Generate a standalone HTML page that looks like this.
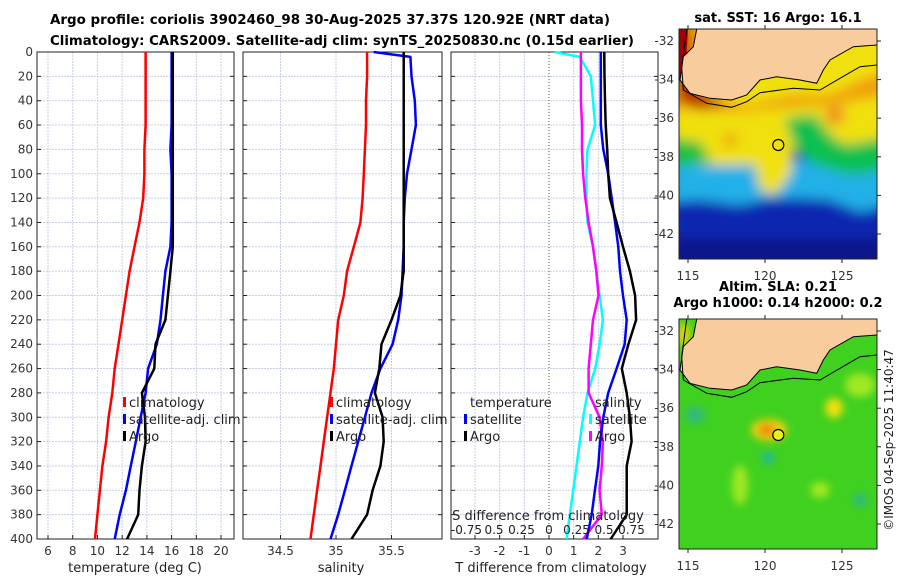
<!DOCTYPE html>
<html><head><meta charset="utf-8"><style>
body{margin:0;background:#fff;}
svg{display:block;font-family:"DejaVu Sans","Liberation Sans",sans-serif;}
</style></head><body>
<svg id="c" width="900" height="580" viewBox="0 0 900 580" xmlns="http://www.w3.org/2000/svg">
<defs>
<filter id="bl" x="-20%" y="-20%" width="140%" height="140%"><feGaussianBlur stdDeviation="6"/></filter>
<filter id="bl2" x="-50%" y="-50%" width="200%" height="200%"><feGaussianBlur stdDeviation="4"/></filter>
<clipPath id="m1"><rect x="679" y="29" width="198" height="230"/></clipPath>
<clipPath id="m2"><rect x="679" y="319" width="198" height="230"/></clipPath>
</defs>
<text x="330" y="24" text-anchor="middle" font-size="13" font-weight="bold" textLength="560" lengthAdjust="spacingAndGlyphs">Argo profile: coriolis 3902460_98 30-Aug-2025 37.37S 120.92E (NRT data)</text>
<text x="342" y="45" text-anchor="middle" font-size="13" font-weight="bold" textLength="584" lengthAdjust="spacingAndGlyphs">Climatology: CARS2009. Satellite-adj clim: synTS_20250830.nc (0.15d earlier)</text>
<g id="plots"></g>
<g id="maps"></g>
</svg>
<script>
const depths=[0,4,20,40,60,80,100,120,140,160,180,200,220,240,260,280,300,320,340,360,380,400];
const tempClim=[13.9,13.9,13.9,13.9,13.9,13.8,13.8,13.7,13.4,13.0,12.6,12.3,12.0,11.7,11.4,11.2,10.9,10.7,10.4,10.2,10.0,9.8];
const tempSat=[16.0,16.0,16.0,16.0,16.0,15.9,16.0,16.0,16.0,15.9,15.5,15.3,15.1,14.8,14.1,13.9,13.5,13.1,12.7,12.3,11.8,11.4];
const tempArgo=[16.1,16.1,16.1,16.1,16.1,16.1,16.1,16.1,16.1,16.1,15.9,15.7,15.5,14.7,14.6,13.6,13.85,13.9,13.6,13.4,13.3,12.4];
const salClim=[35.28,35.28,35.28,35.27,35.27,35.26,35.25,35.24,35.22,35.16,35.10,35.07,35.02,35.00,34.98,34.95,34.92,34.89,34.86,34.83,34.80,34.77];
const salSat=[35.34,35.67,35.68,35.71,35.72,35.68,35.64,35.62,35.61,35.61,35.60,35.59,35.56,35.51,35.40,35.32,35.26,35.20,35.14,35.08,35.02,34.95];
const salArgo=[35.61,35.61,35.61,35.61,35.61,35.61,35.61,35.61,35.61,35.61,35.61,35.58,35.50,35.41,35.39,35.35,35.42,35.43,35.40,35.33,35.28,35.14];
const tDiffSat=[2.1,2.1,2.1,2.1,2.1,2.2,2.4,2.54,2.68,2.81,2.88,3.0,3.15,3.07,2.74,2.4,2.2,2.07,2.0,1.86,1.73,1.53];
const tDiffArgo=[2.24,2.24,2.25,2.27,2.3,2.36,2.4,2.47,2.74,3.0,3.28,3.49,3.53,3.22,2.95,3.15,3.28,3.35,3.15,3.15,3.15,2.5];
const sDiffSat=[0.05,0.28,0.38,0.40,0.42,0.35,0.34,0.34,0.35,0.40,0.43,0.46,0.49,0.46,0.42,0.35,0.31,0.28,0.25,0.22,0.19,0.16];
const sDiffArgo=[0.29,0.29,0.29,0.29,0.30,0.30,0.31,0.33,0.36,0.40,0.43,0.45,0.40,0.38,0.36,0.36,0.46,0.49,0.48,0.46,0.48,0.31];
const depthTicks=[0,20,40,60,80,100,120,140,160,180,200,220,240,260,280,300,320,340,360,380,400];
const tempTicks=[6,8,10,12,14,16,18,20];
const salTicks=[34.5,35,35.5];
const tdTicks=[-3,-2,-1,0,1,2,3];
const sdTickLabels=["-0.75","0.5","0.25","0","0.25","0.5","0.75"];

const NS="http://www.w3.org/2000/svg";
const P=document.getElementById('plots');
function mk(tag,attrs,parent){const e=document.createElementNS(NS,tag);for(const k in attrs)e.setAttribute(k,attrs[k]);(parent||P).appendChild(e);return e;}
const top0=52,bot0=539;
const yD=d=>top0+d/400*(bot0-top0);
const panels=[
 {x0:37,x1:234,sx:t=>48+(t-6)*12.36,name:'temperature-panel'},
 {x0:243,x1:442,sx:s=>336+(s-35)*111,name:'salinity-panel'},
 {x0:451,x1:658,sx:t=>549+t*24.67,name:'difference-panel'}
];
const sdx=s=>549+s*110;
panels.forEach((p,i)=>{
 const g=mk('g',{});
 
 
 depthTicks.forEach(d=>{
  const l=mk('line',{x1:p.x0,x2:p.x1,y1:yD(d),y2:yD(d),stroke:'#c8cde6','stroke-width':1,'stroke-dasharray':'2,1'},g);
  
  
  mk('line',{x1:p.x0,x2:p.x0+4,y1:yD(d),y2:yD(d),stroke:'#222'},g);
  mk('line',{x1:p.x1,x2:p.x1-4,y1:yD(d),y2:yD(d),stroke:'#222'},g);
  if(i===0){const t=mk('text',{x:p.x0-4,y:yD(d)+4,'text-anchor':'end','font-size':12,fill:'#333'},g);t.textContent=d;
   }
 });
 const ticks=i===0?tempTicks:i===1?salTicks:tdTicks;
 ticks.forEach(v=>{
  const x=p.sx(v);
  if(i===2&&v===0){mk('line',{x1:x,x2:x,y1:top0,y2:bot0,stroke:'#3a6a2a','stroke-width':1,'stroke-dasharray':'1,2'},g);}
  else{const l=mk('line',{x1:x,x2:x,y1:top0,y2:bot0,stroke:'#c8cde6','stroke-width':1,'stroke-dasharray':'2,1'},g);
   }
  mk('line',{x1:x,x2:x,y1:bot0,y2:bot0-4,stroke:'#222'},g);
  const t=mk('text',{x:x,y:bot0+16,'text-anchor':'middle','font-size':12,fill:'#333'},g);t.textContent=v;
  
 });
 mk('rect',{x:p.x0,y:top0,width:p.x1-p.x0,height:bot0-top0,fill:'none',stroke:'#222','stroke-width':1},g);
});
function line(xs,fx,col,name){
 const pts=xs.map((v,k)=>fx(v).toFixed(1)+','+yD(depths[k]).toFixed(1)).join(' ');
 const e=mk('polyline',{points:pts,fill:'none',stroke:col,'stroke-width':2.5,'stroke-linejoin':'round'});
 
 
}
line(tempClim,panels[0].sx,'#ff0000','temp-climatology-line');
line(tempSat,panels[0].sx,'#0000ff','temp-satellite-line');
line(tempArgo,panels[0].sx,'#000','temp-argo-line');
line(salClim,panels[1].sx,'#ff0000','sal-climatology-line');
line(salSat,panels[1].sx,'#0000ff','sal-satellite-line');
line(salArgo,panels[1].sx,'#000','sal-argo-line');
line(sDiffSat,sdx,'#00ffff','sdiff-satellite-line');
line(sDiffArgo,sdx,'#ff00ff','sdiff-argo-line');
line(tDiffSat,panels[2].sx,'#0000ff','tdiff-satellite-line');
line(tDiffArgo,panels[2].sx,'#000','tdiff-argo-line');

function txt(x,y,s,size,name,extra){const t=mk('text',Object.assign({x:x,y:y,'font-size':size,fill:'#222'},extra||{}));t.textContent=s;
 return t;}
txt(135,572,'temperature (deg C)',13,'x-axis-title-temperature',{'text-anchor':'middle'});
txt(341,572,'salinity',13,'x-axis-title-salinity',{'text-anchor':'middle'});
txt(551,572,'T difference from climatology',13,'x-axis-title-t-diff',{'text-anchor':'middle'});
txt(548,520,'S difference from climatology',13,'s-axis-title',{'text-anchor':'middle'});
const sdv=[-0.75,-0.5,-0.25,0,0.25,0.5,0.75];
sdTickLabels.forEach((s,k)=>txt(sdx(sdv[k]),534,s,12,'s-tick-label',{'text-anchor':'middle'}));

function legend(x,y,col,label,name){
 const m=mk('rect',{x:x,y:y-10,width:3,height:10,fill:col});
 
 txt(x+6,y,label,13,name);
}
[123,330].forEach(x=>{
 legend(x,407,'#ff0000','climatology','legend-climatology');
 legend(x,424,'#0000ff','satellite-adj. clim','legend-satellite');
 legend(x,441,'#000','Argo','legend-argo');
});
txt(470,407,'temperature',13,'legend-temperature-header');
legend(464,424,'#0000ff','satellite','legend-tdiff-satellite');
legend(464,441,'#000','Argo','legend-tdiff-argo');
txt(595,407,'salinity',13,'legend-salinity-header');
legend(589,424,'#00ffff','satellite','legend-sdiff-satellite');
legend(589,441,'#ff00ff','Argo','legend-sdiff-argo');

// maps
const M=document.getElementById('maps');
function mm(tag,attrs,parent){const e=document.createElementNS(NS,tag);for(const k in attrs)e.setAttribute(k,attrs[k]);(parent||M).appendChild(e);return e;}
const lonTicks=[115,120,125];
const latTicks=[-32,-34,-36,-38,-40,-42];
const lonX=lo=>688+(lo-115)*15.4;
const latY=la=>41+(-32-la)*19.3;
const land="696.7,29 693.3,46.7 683.3,56.7 680,80 690,93.3 710,98.3 731.7,100 746.7,95 760,80 776.7,76.7 800,80 816.7,83.3 823.3,70 830,60 853.3,46.7 877.3,45 877.3,29";
const shelf="686.7,29 681.7,66.7 683.3,90 706.7,103.3 731.7,107.3 746.7,101.7 760,92.7 793.3,88.3 820,90 840,78.3 860,66.7 877.3,65";
function map(dy,clip,kind,title1,title2){
 const g=mm('g',{'clip-path':'url(#'+clip+')'});
 
 const T=(pts)=>pts.split(' ').map(p=>{const [a,b]=p.split(',');return a+','+(+b+dy);}).join(' ');
 if(kind==='sst'){
  mm('rect',{x:679,y:29+dy,width:198,height:230,fill:'#1838c8'},g);
  const gb=mm('g',{filter:'url(#bl)'},g);
  mm('rect',{x:670,y:195+dy,width:220,height:80,fill:'#1028b0'},gb);
  mm('rect',{x:670,y:238+dy,width:220,height:40,fill:'#08128a'},gb);
  mm('polygon',{points:T("670,162 890,158 890,205 860,212 830,200 800,198 770,198 740,205 700,200 670,202"),fill:'#20b0e8'},gb);
  mm('polygon',{points:T("670,20 890,20 890,150 860,160 820,150 795,145 790,175 775,195 760,190 755,165 700,165 670,160"),fill:'#f0e010'},gb);
  mm('polygon',{points:T("785,118 815,115 830,135 845,145 875,140 890,135 890,170 850,175 815,165 795,150"),fill:'#10c050'},gb);
  mm('polygon',{points:T("670,138 700,142 712,162 670,168"),fill:'#20c040'},gb);
  mm('polygon',{points:T("670,20 700,20 720,100 750,105 790,95 830,95 860,80 890,70 890,95 830,105 780,108 740,112 700,110 670,110"),fill:'#f0a010'},gb);
  mm('circle',{cx:835,cy:115+dy,r:10,fill:'#f09020'},gb);
  mm('circle',{cx:730,cy:140+dy,r:8,fill:'#f0b010'},gb);
  mm('polygon',{points:T("679,29 690,29 690,75 700,95 730,105 700,110 679,100"),fill:'#b01000'},gb);
  mm('polygon',{points:T("679,29 688,29 685,80 679,80"),fill:'#a00000'},g);
 } else {
  mm('rect',{x:679,y:29+dy,width:198,height:230,fill:'#40d020'},g);
  const gb=mm('g',{filter:'url(#bl2)'},g);
  mm('ellipse',{cx:769,cy:140+dy,rx:18,ry:11,fill:'#f0d010'},gb);
  mm('ellipse',{cx:767,cy:140+dy,rx:8,ry:6,fill:'#f08010'},gb);
  mm('circle',{cx:768,cy:168+dy,r:6,fill:'#20b8a0'},gb);
  mm('ellipse',{cx:834,cy:118+dy,rx:9,ry:10,fill:'#f0e010'},gb);
  mm('ellipse',{cx:684,cy:45+dy,rx:6,ry:12,fill:'#f0d010'},gb);
  mm('ellipse',{cx:740,cy:195+dy,rx:8,ry:20,fill:'#a0e820'},gb);
  mm('ellipse',{cx:695,cy:125+dy,rx:10,ry:8,fill:'#30b880'},gb);
  mm('ellipse',{cx:860,cy:210+dy,rx:7,ry:7,fill:'#30b880'},gb);
  mm('ellipse',{cx:820,cy:200+dy,rx:10,ry:8,fill:'#a0e820'},gb);
  mm('ellipse',{cx:860,cy:95+dy,rx:15,ry:12,fill:'#a0e820'},gb);
 }
 const ld=mm('polygon',{points:T(land),fill:'#f8cc9c'},g);
 
 mm('polyline',{points:T(land.split(' ').slice(0,16).join(' ')),fill:'none',stroke:'#000','stroke-width':1},g);
 mm('polyline',{points:T(shelf),fill:'none',stroke:'#000','stroke-width':1},g);
 const c=mm('circle',{cx:778.3,cy:145+dy,r:5.5,fill:kind==='sst'?'none':'#e8f020',stroke:'#000','stroke-width':1.2},g);
 
 mm('rect',{x:679,y:29+dy,width:198,height:230,fill:'none',stroke:'#222'});
 latTicks.forEach(la=>{const y=latY(la)+dy;
  mm('line',{x1:877,x2:881,y1:y,y2:y,stroke:'#222'});
  const t=mm('text',{x:674,y:y+4,'text-anchor':'end','font-size':12,fill:'#333'});t.textContent=la;
  });
 lonTicks.forEach(lo=>{const x=lonX(lo);
  mm('line',{x1:x,x2:x,y1:259+dy,y2:263+dy,stroke:'#222'});mm('line',{x1:x,x2:x,y1:29+dy,y2:25+dy,stroke:'#222'});
  const t=mm('text',{x:x,y:280+dy,'text-anchor':'middle','font-size':12,fill:'#333'});t.textContent=lo;
  });
 if(title1){const t=mm('text',{x:778,y:(title2?1:22)+dy,'text-anchor':'middle','font-size':13,'font-weight':'bold'});t.textContent=title1;
  }
 if(title2){const t=mm('text',{x:778,y:23+dy-6,'text-anchor':'middle','font-size':13,'font-weight':'bold'});t.textContent=title2;
  }
}
map(0,'m1','sst','sat. SST: 16 Argo: 16.1');
map(290,'m2','sla','Altim. SLA: 0.21','Argo h1000: 0.14 h2000: 0.2');
const cp=mm('text',{x:0,y:0,'font-size':12,fill:'#222','text-anchor':'middle',transform:'translate(893,440) rotate(-90)'});
cp.textContent='©IMOS 04-Sep-2025 11:40:47';

</script>
</body></html>
